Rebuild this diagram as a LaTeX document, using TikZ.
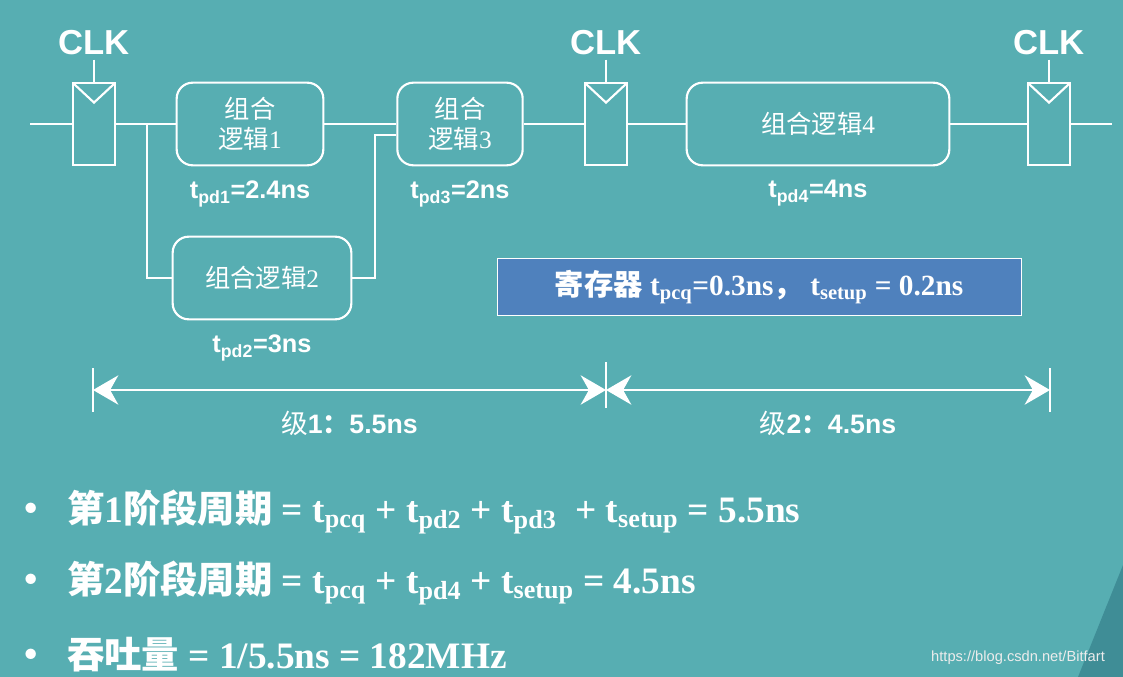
\documentclass[tikz,border=0pt]{standalone}
\usepackage{fontspec}
\setmainfont{Liberation Serif}
\setsansfont{Liberation Sans}
\newfontfamily\cjk{Noto Sans CJK SC}
\usetikzlibrary{positioning,arrows.meta,calc}
\definecolor{bgteal}{HTML}{57AEB2}
\definecolor{darkteal}{HTML}{3F8D96}
\definecolor{regblue}{HTML}{4F81BD}
\tikzset{
  wire/.style={draw=white, line width=1.6pt},
  reg/.style={draw=white, line width=1.6pt, rectangle, minimum width=32pt, minimum height=62pt, inner sep=0pt},
  logic/.style={draw=white, line width=1.6pt, rounded corners=12pt, minimum height=62pt, inner sep=0pt, align=center, font=\cjk\fontsize{19}{22}\selectfont, text=white},
  clk/.style={font=\sffamily\bfseries\fontsize{26}{28}\selectfont, text=white},
  tpd/.style={font=\sffamily\bfseries\fontsize{19}{22}\selectfont, text=white},
  dim/.style={draw=white, line width=1.4pt, {Stealth[length=19pt,width=22pt]}-{Stealth[length=19pt,width=22pt]}},
  eq/.style={anchor=west, font=\bfseries\fontsize{28}{32}\selectfont, text=white},
}
\newcommand{\dg}[1]{{\rmfamily #1}}
\begin{document}
\begin{tikzpicture}[x=0.75pt,y=-0.75pt]
\fill[bgteal] (0,0) rectangle (1123,677);
\fill[darkteal] (1123,565) -- (1078,677) -- (1123,677) -- cycle;
\useasboundingbox (0,0) rectangle (1123,677);

% registers
\node[reg] (r1) at (94,124) {};
\node[reg] (r2) at (606,124) {};
\node[reg] (r3) at (1049,124) {};
\foreach \r in {r1,r2,r3}{
  \draw[wire] ($(\r.north west)+(2,2)$) -- ($(\r.north)+(0,21)$) -- ($(\r.north east)+(-2,2)$);
  \coordinate (\r c) at ($(\r.north)+(0,-22)$);
  \draw[wire] (\r c) -- (\r.north);
  \node[clk, above=0pt of \r c] {CLK};
}

% combinational logic
\node[logic, minimum width=110pt] (cl1) at (250,124) {组合\\逻辑\dg{1}};
\node[logic, minimum width=134pt] (cl2) at (262,278) {组合逻辑\dg{2}};
\node[logic, minimum width=94pt] (cl3) at (460,124) {组合\\逻辑\dg{3}};
\node[logic, minimum width=197pt] (cl4) at (818,124) {组合逻辑\dg{4}};

\node[tpd, below=7pt of cl1] {t\textsubscript{pd1}=2.4ns};
\node[tpd, below=7pt of cl3] {t\textsubscript{pd3}=2ns};
\node[tpd, below=7pt of cl4] {t\textsubscript{pd4}=4ns};
\node[tpd, below=7pt of cl2] {t\textsubscript{pd2}=3ns};

% wires
\coordinate (in) at (30,124);
\coordinate (out) at (1112,124);
\coordinate (split) at (147,124);
\draw[wire] (in) -- (r1);
\draw[wire] (r1) -- (cl1);
\draw[wire] (split) |- (cl2.west);
\draw[wire] (cl1) -- (cl3);
\draw[wire] (cl2.east) -| (375,135) -- (375,135-|cl3.west);
\draw[wire] (cl3) -- (r2);
\draw[wire] (r2) -- (cl4);
\draw[wire] (cl4) -- (r3);
\draw[wire] (r3) -- (out);

% register parameters
\node[draw=white, line width=0.6pt, fill=regblue, minimum width=393pt, minimum height=43pt, text=white,
  font=\bfseries\fontsize{22}{26}\selectfont] (param) at (759,287)
  {{\cjk 寄存器} t\textsubscript{pcq}=0.3ns{\cjk，}\ t\textsubscript{setup} = 0.2ns};

% stage dimensions
\coordinate (d0) at (93,390);
\coordinate (d1) at (606,390);
\coordinate (d2) at (1050,390);
\draw[wire, line width=1.2pt] (93,368) -- (93,412);
\draw[wire, line width=1.2pt] (606,362) -- (606,408);
\draw[wire, line width=1.2pt] (1050,368) -- (1050,412);
\draw[dim] (d0) -- (d1) node[midway, below=12pt, tpd, font=\sffamily\bfseries\fontsize{20}{22}\selectfont] {{\cjk\mdseries 级}1{\cjk：}5.5ns};
\draw[dim] (d1) -- (d2) node[midway, below=12pt, tpd, font=\sffamily\bfseries\fontsize{20}{22}\selectfont] {{\cjk\mdseries 级}2{\cjk：}4.5ns};

% cycle equations
\node[eq] (e1) at (8,512) {{\cjk • \ 第}1{\cjk 阶段周期} = t\textsubscript{pcq} + t\textsubscript{pd2} + t\textsubscript{pd3} \ + t\textsubscript{setup} = 5.5ns};
\node[eq] (e2) at (8,583) {{\cjk • \ 第}2{\cjk 阶段周期} = t\textsubscript{pcq} + t\textsubscript{pd4} + t\textsubscript{setup} = 4.5ns};
\node[eq] (e3) at (8,655) {{\cjk • \ 吞吐量} = 1/5.5ns = 182MHz};

\node[text=white!85!gray, font=\sffamily\fontsize{11}{13}\selectfont] (wm) at (1018,658) {https://blog.csdn.net/Bitfart};
\end{tikzpicture}
\end{document}
